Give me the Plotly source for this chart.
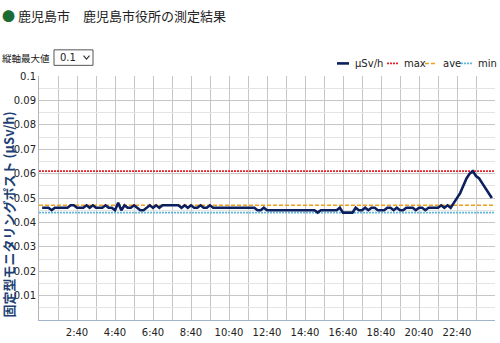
import plotly.graph_objects as go

# ---------------- data ----------------
title_text = "鹿児島市　鹿児島市役所の測定結果"
yaxis_title = "固定型モニタリングポスト (μSv/h)"
select_label = "縦軸最大値"
select_value = "0.1"

# 10-minute readings (minutes since 0:00), 0:50 .. 24:30
minutes = list(range(50, 1480, 10))
dose = [
    0.046, 0.046, 0.046, 0.045, 0.046, 0.046, 0.046, 0.046, 0.046, 0.047,
    0.047, 0.046, 0.046, 0.046, 0.047, 0.046, 0.047, 0.046, 0.046, 0.046,
    0.047, 0.046, 0.046, 0.045, 0.048, 0.045, 0.047, 0.046, 0.046, 0.047,
    0.046, 0.045, 0.045, 0.046, 0.047, 0.046, 0.047, 0.046, 0.047, 0.047,
    0.047, 0.047, 0.047, 0.047, 0.046, 0.047, 0.046, 0.047, 0.046, 0.046,
    0.047, 0.046, 0.046, 0.047, 0.046, 0.046, 0.046, 0.046, 0.046, 0.046,
    0.046, 0.046, 0.046, 0.046, 0.046, 0.046, 0.046, 0.046, 0.045, 0.045,
    0.046, 0.045, 0.045, 0.045, 0.045, 0.045, 0.045, 0.045, 0.045, 0.045,
    0.045, 0.045, 0.045, 0.045, 0.045, 0.045, 0.045, 0.044, 0.045, 0.045,
    0.045, 0.045, 0.045, 0.045, 0.046, 0.044, 0.044, 0.044, 0.044, 0.046,
    0.045, 0.045, 0.046, 0.045, 0.046, 0.046, 0.045, 0.045, 0.045, 0.046,
    0.046, 0.045, 0.046, 0.045, 0.045, 0.046, 0.046, 0.046, 0.045, 0.046,
    0.046, 0.045, 0.046, 0.046, 0.046, 0.046, 0.047, 0.046, 0.047, 0.046,
    0.048, 0.050, 0.052, 0.055, 0.058, 0.060, 0.061, 0.059, 0.058, 0.056,
    0.054, 0.052, 0.050,
]
stat_names = ["max", "ave", "min"]
stat_values = [0.061, 0.047, 0.044]

x_tick_labels = ["2:40", "4:40", "6:40", "8:40", "10:40", "12:40",
                 "14:40", "16:40", "18:40", "20:40", "22:40"]
y_tick_labels = ["0.01", "0.02", "0.03", "0.04", "0.05",
                 "0.06", "0.07", "0.08", "0.09", "0.1"]

# ---------------- styling ----------------
W, H = 500, 343
L, R, T, B = 39, 5, 76, 15
PW, PH = W - L - R, H - T - B
X_START, X_END = 40, 1480

def px(x):
    return (x - L) / PW

def py(y):
    return (T + PH - y) / PH

def to_min(s):
    h, m = s.split(":")
    return int(h) * 60 + int(m)

NAVY = "#0c1f5e"
stat_colors = ["#e3242b", "#f0a01a", "#62b8dc"]
stat_dash = ["2px,1px", "4px,2px", "2px,1px"]
stat_width = [1.6, 1.5, 1.6]

fig = go.Figure()
for name, v, c, d, w in zip(stat_names, stat_values, stat_colors, stat_dash, stat_width):
    fig.add_trace(go.Scatter(x=[X_START, X_END], y=[v, v], mode="lines",
                             line=dict(color=c, width=w, dash=d),
                             name=name, showlegend=False, hoverinfo="skip"))
fig.add_trace(go.Scatter(x=minutes, y=dose, mode="lines",
                         line=dict(color=NAVY, width=2.6),
                         name="μSv/h", showlegend=False))

tick_font = dict(family="DejaVu Sans, Verdana, sans-serif", size=10, color="#222")
fig.update_layout(
    width=W, height=H,
    margin=dict(l=L, r=R, t=T, b=B),
    paper_bgcolor="white", plot_bgcolor="white",
    showlegend=False,
    xaxis=dict(range=[X_START, X_END],
               tickvals=[to_min(s) for s in x_tick_labels],
               ticktext=x_tick_labels, ticks="",
               tickfont=tick_font, ticklabelstandoff=3,
               showgrid=True, gridcolor="#c6c6c6", gridwidth=1,
               minor=dict(tick0=X_START, dtick=60, showgrid=True,
                          gridcolor="#c6c6c6", gridwidth=1, ticks=""),
               showline=True, linecolor="#9fb3cb", linewidth=1,
               zeroline=False, fixedrange=True),
    yaxis=dict(range=[0, 0.1],
               tickvals=[float(s) for s in y_tick_labels],
               ticktext=y_tick_labels, ticks="",
               tickfont=tick_font,
               showgrid=True, gridcolor="#c6c6c6", gridwidth=1,
               minor=dict(tick0=0, dtick=0.005, showgrid=True,
                          gridcolor="#e4e4e4", gridwidth=1, ticks=""),
               showline=True, linecolor="#b4b4b4", linewidth=1,
               zeroline=False, fixedrange=True),
)

annotations = []
shapes = []
cjk = "Noto Sans CJK JP, sans-serif"

# title
annotations.append(dict(
    xref="paper", yref="paper", x=px(0), y=py(14), xanchor="left", yanchor="middle",
    text="<span style='color:#1d6b34'>●</span> " + title_text, showarrow=False,
    font=dict(family=cjk, size=13, color="#222")))

# selector
annotations.append(dict(
    xref="paper", yref="paper", x=px(0), y=py(57), xanchor="left", yanchor="middle",
    text=select_label, showarrow=False,
    font=dict(family=cjk, size=9.5, color="#222")))
shapes.append(dict(type="rect", xref="paper", yref="paper",
                   x0=px(54), x1=px(93), y0=py(65), y1=py(49),
                   line=dict(color="#555", width=1), fillcolor="white"))
annotations.append(dict(
    xref="paper", yref="paper", x=px(58), y=py(57), xanchor="left", yanchor="middle",
    text=select_value, showarrow=False,
    font=dict(family="DejaVu Sans, sans-serif", size=10, color="#222")))
shapes.append(dict(type="path", xref="paper", yref="paper",
                   path=f"M {px(83.5)},{py(55)} L {px(86.5)},{py(58.5)} L {px(89.5)},{py(55)}",
                   line=dict(color="#333", width=1.2)))

# y-axis title
annotations.append(dict(
    xref="paper", yref="paper", x=px(8), y=py(219), xanchor="center", yanchor="middle",
    text="<b>" + yaxis_title + "</b>", textangle=-90, showarrow=False,
    font=dict(family=cjk, size=13, color="#1d3f74")))

# custom legend
leg_y = py(63)
leg_items = [("μSv/h", NAVY, "solid", 2.6, 337, 349, 353),
             ("max", stat_colors[0], stat_dash[0], 1.6, 387, 398, 402),
             ("ave", stat_colors[1], stat_dash[1], 1.5, 425, 437, 441),
             ("min", stat_colors[2], stat_dash[2], 1.6, 461, 472, 476)]
for name, col, dash, wdt, s0, s1, tx in leg_items:
    shapes.append(dict(type="line", xref="paper", yref="paper",
                       x0=px(s0), x1=px(s1), y0=leg_y, y1=leg_y,
                       line=dict(color=col, width=wdt, dash=dash)))
    annotations.append(dict(
        xref="paper", yref="paper", x=px(tx), y=leg_y, xanchor="left", yanchor="middle",
        text=name, showarrow=False,
        font=dict(family="DejaVu Sans, Verdana, sans-serif", size=10, color="#222")))

fig.update_layout(annotations=annotations, shapes=shapes)
fig.write_html("out.html")
